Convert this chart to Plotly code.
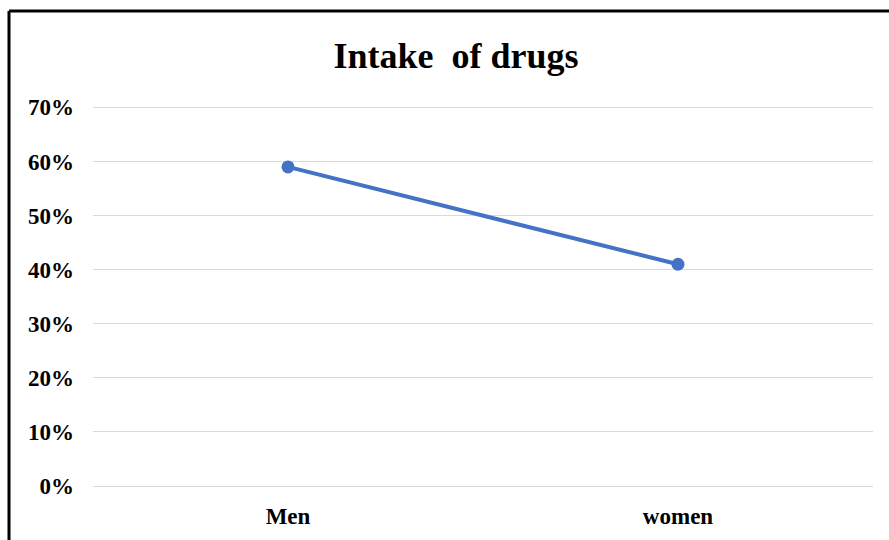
import plotly.graph_objects as go

# Share of people taking drugs, by sex
categories = ["Men", "women"]
values = [0.59, 0.41]
y_ticks = [0, 0.1, 0.2, 0.3, 0.4, 0.5, 0.6, 0.7]

FONT = "Liberation Serif, Times New Roman, serif"
BLUE = "#4472C4"
GRID = "#d9d9d9"

W, H = 889, 540
ML, MR, MT, MB = 93, 16, 102, 54
plot_w = W - ML - MR
plot_h = H - MT - MB


def px_x(x):
    return (x - ML) / plot_w


def px_y(y):
    return (H - MB - y) / plot_h


fig = go.Figure(
    go.Scatter(
        x=categories,
        y=values,
        mode="lines+markers",
        line=dict(color=BLUE, width=4),
        marker=dict(color=BLUE, size=13),
        showlegend=False,
    )
)

fig.update_layout(
    width=W,
    height=H,
    margin=dict(l=ML, r=MR, t=MT, b=MB),
    paper_bgcolor="white",
    plot_bgcolor="white",
    title=dict(
        text="Intake  of drugs",
        font=dict(family=FONT, size=36, color="#000000", weight="bold"),
        x=456 / W,
        xanchor="center",
        y=1 - 55 / H,
        yanchor="middle",
    ),
    xaxis=dict(
        type="category",
        range=[-0.5, 1.5],
        showgrid=False,
        showline=False,
        ticks="",
        tickfont=dict(family=FONT, size=23, color="#000000", weight="bold"),
        ticklabelstandoff=14,
    ),
    yaxis=dict(
        range=[0, 0.71],
        tickvals=y_ticks,
        tickformat=".0%",
        showgrid=True,
        gridcolor=GRID,
        gridwidth=1,
        zeroline=True,
        zerolinecolor=GRID,
        zerolinewidth=1,
        showline=False,
        ticks="",
        tickfont=dict(family=FONT, size=23, color="#000000", weight="bold"),
        ticklabelstandoff=18,
    ),
    shapes=[
        # chart frame (left and top edges)
        dict(type="line", xref="paper", yref="paper",
             x0=px_x(9), x1=px_x(9), y0=px_y(560), y1=px_y(11),
             line=dict(color="#000000", width=3)),
        dict(type="line", xref="paper", yref="paper",
             x0=px_x(9), x1=px_x(900), y0=px_y(11), y1=px_y(11),
             line=dict(color="#000000", width=3)),
    ],
)

fig.write_html("out.html")
